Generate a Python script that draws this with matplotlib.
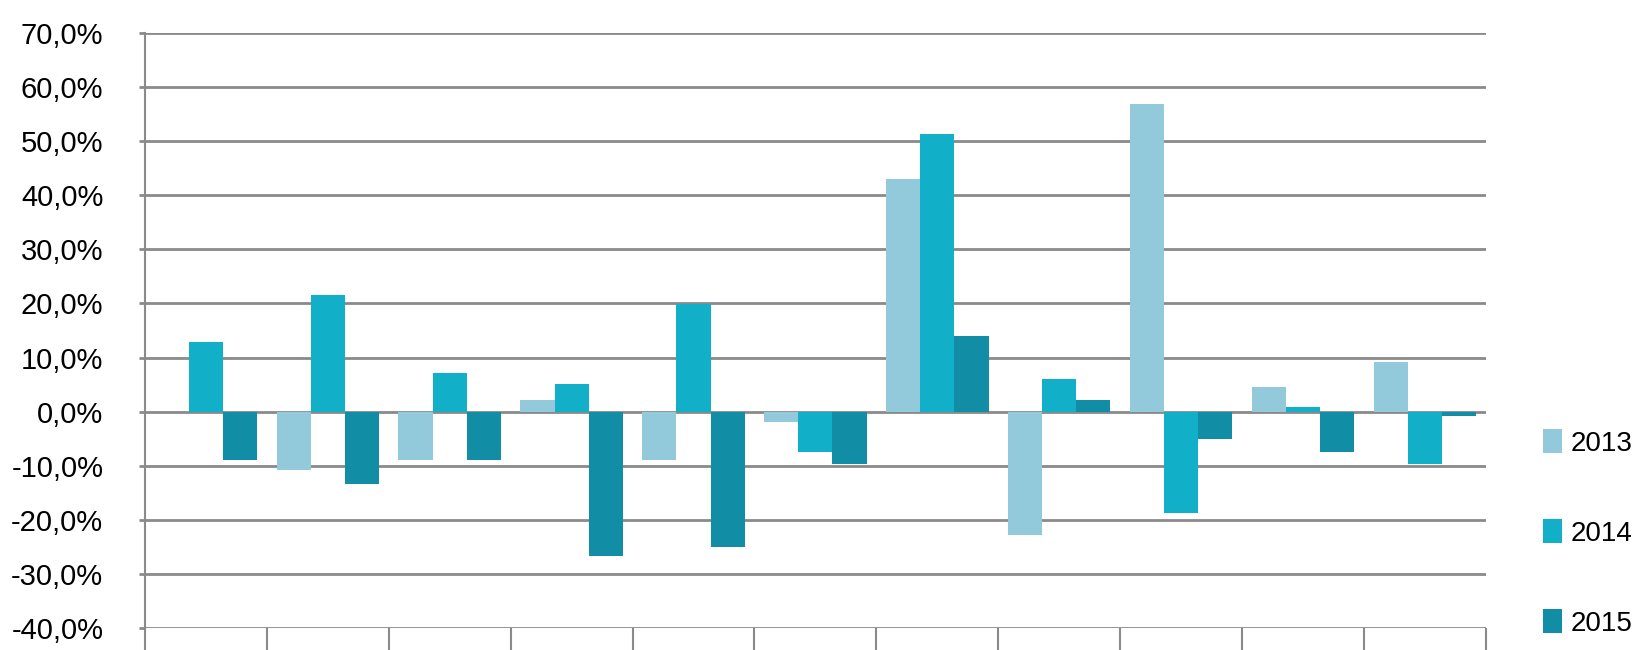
import matplotlib.pyplot as plt
import numpy as np

# values (percent)
years = ["2013", "2014", "2015"]
v2013 = [0.0, -10.8, -8.9, 2.1, -8.9, -1.9, 43.1, -22.8, 56.9, 4.5, 9.1]
v2014 = [12.9, 21.5, 7.2, 5.2, 19.9, -7.5, 51.3, 6.0, -18.8, 0.8, -9.7]
v2015 = [-9.0, -13.4, -8.9, -26.7, -25.0, -9.7, 13.9, 2.1, -5.0, -7.5, -0.8]
colors = ["#93CADB", "#12AFC8", "#118EA5"]

yticks = np.arange(-40, 71, 10)

plt.rcParams['font.family'] = ['Liberation Sans', 'DejaVu Sans']

fig = plt.figure(figsize=(16.45, 6.5), dpi=100)
ax = fig.add_axes([0.0881, 0.0338, 0.8152, 0.9154])

x = np.arange(len(v2013))
w = 0.28
series = [v2013, v2014, v2015]
for i, vals in enumerate(series):
    ax.bar(x + (i - 1) * w, vals, width=w, color=colors[i], label=years[i], zorder=3)

ax.set_xlim(-0.5, len(v2013) - 0.5)
ax.set_ylim(-40, 70)
ax.set_yticks(yticks)
ax.set_yticklabels([f"{t:.1f}%".replace(".", ",") for t in yticks], fontsize=21)
ax.yaxis.grid(True, color="#8a8a8a", linewidth=2, zorder=0)

# category boundary ticks, no labels (cut off in the picture)
ax.set_xticks(np.arange(-0.5, len(v2013), 1.0))
ax.set_xticklabels([])
ax.tick_params(axis="x", length=16, width=1.5, color="#8a8a8a", direction="out")
ax.tick_params(axis="y", length=4, width=2, color="#8a8a8a", pad=26)

for s in ["top", "right", "bottom"]:
    ax.spines[s].set_visible(False)
ax.spines["left"].set_color("#8a8a8a")
ax.spines["left"].set_linewidth(1.5)

fig.legend(loc="center left", bbox_to_anchor=(0.938, 0.18), frameon=False,
           fontsize=20, handlelength=0.7, handleheight=0.95, handletextpad=0.3,
           labelspacing=2.25, borderpad=0, borderaxespad=0)

fig.savefig("out.png", dpi=100)
